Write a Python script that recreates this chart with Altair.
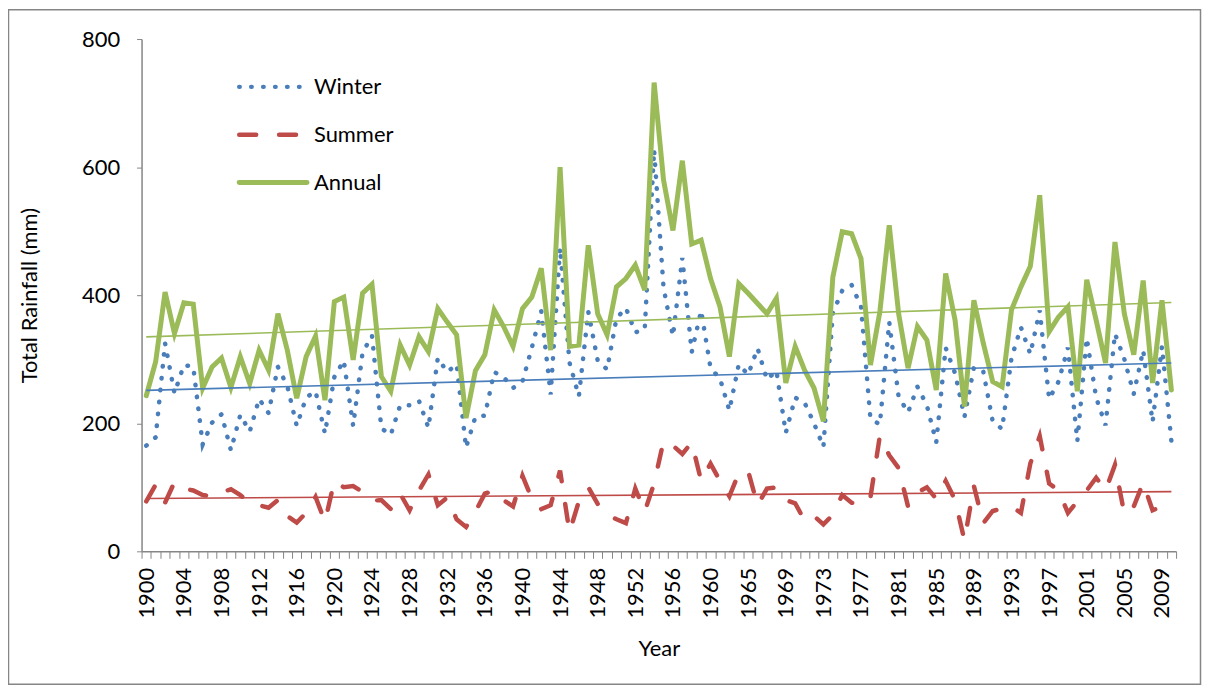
import altair as alt
import pandas as pd

# ---- categories (one year between 1960 and 1965 is absent from the axis) ----
years = list(range(1900, 1961)) + list(range(1962, 2011))
label_every = 4

# ---- series values (mm) ----
winter = [165, 178, 325, 247, 291, 288, 167, 201, 214, 158,
          213, 187, 238, 216, 288, 258, 196, 240, 250, 184,
          272, 298, 196, 310, 337, 192, 182, 228, 228, 235,
          193, 302, 280, 292, 162, 210, 212, 280, 272, 255,
          265, 318, 375, 245, 474, 295, 242, 374, 298, 284,
          364, 380, 342, 346, 627, 412, 336, 458, 311, 376,
          286, 270, 220, 292, 276, 317, 268, 282, 185, 240,
          232, 200, 163, 372, 407, 416, 382, 207, 198, 358,
          241, 217, 257, 228, 170, 318, 278, 210, 287, 281,
          203, 191, 302, 350, 308, 376, 238, 265, 318, 172,
          333, 240, 197, 340, 300, 246, 314, 202, 320, 172]

summer = [78, 104, 76, 108, 98, 95, 88, 86, 92, 97,
          88, 75, 72, 68, 80, 55, 45, 60, 85, 46,
          110, 100, 102, 93, 79, 80, 66, 90, 64, 95,
          120, 72, 84, 50, 38, 62, 90, 95, 80, 70,
          118, 82, 66, 72, 126, 30, 78, 100, 74, 58,
          50, 44, 98, 62, 106, 172, 165, 152, 170, 110,
          137, 110, 86, 122, 125, 72, 98, 100, 80, 75,
          48, 55, 42, 57, 88, 76, 72, 84, 180, 150,
          130, 70, 92, 100, 82, 110, 80, 17, 102, 44,
          63, 67, 70, 60, 137, 180, 106, 95, 60, 78,
          95, 115, 95, 135, 58, 70, 107, 64, 70, 85]

annual = [243, 296, 405, 340, 388, 386, 255, 288, 302, 256,
          304, 262, 314, 283, 371, 314, 239, 304, 336, 236,
          390, 397, 299, 403, 417, 273, 250, 322, 291, 335,
          312, 379, 358, 338, 208, 282, 307, 377, 351, 320,
          379, 397, 442, 314, 600, 320, 322, 478, 371, 338,
          413, 426, 447, 408, 732, 580, 501, 610, 480, 486,
          426, 382, 304, 418, 403, 387, 371, 395, 263, 320,
          283, 255, 203, 428, 499, 496, 457, 291, 374, 509,
          371, 286, 351, 330, 252, 434, 361, 226, 392, 325,
          265, 257, 377, 413, 445, 556, 343, 366, 382, 250,
          424, 361, 294, 483, 371, 307, 423, 263, 392, 252]

series_names = ["Winter", "Summer", "Annual"]
series_colors = ["#4A7EBB", "#BE4B48", "#9BBB59"]
y_ticks = [0, 200, 400, 600, 800]

# ---- build table ----
idx = list(range(len(years)))
tick_labels = [str(y) if i % label_every == 0 else "" for i, y in enumerate(years)]
rows = []
for name, vals in zip(series_names, [winter, summer, annual]):
    for i, v in zip(idx, vals):
        rows.append({"idx": i, "series": name, "value": v})
df = pd.DataFrame(rows)

label_expr = "[" + ",".join("'%s'" % t for t in tick_labels) + "][datum.value]"

FONT = "Lato"
FS = 22
W, H = 1038, 514
GRAY = "#868686"

x_enc = alt.X(
    "idx:O",
    scale=alt.Scale(type="band", domain=idx, paddingInner=0, paddingOuter=0),
    bandPosition=0.5,
    axis=alt.Axis(
        title="Year", labelExpr=label_expr, labelAngle=270, labelAlign="right",
        labelBaseline="middle", labelOverlap=False, labelPadding=9,
        tickBand="extent", tickSize=7, tickColor=GRAY, tickWidth=1,
        domainColor=GRAY, domainWidth=1.5,
        labelFont=FONT, labelFontSize=FS, labelColor="black",
        titleFont=FONT, titleFontSize=FS, titleFontWeight="normal", titleColor="black",
        titleX=W / 2, titleY=98, titleAlign="center", titleBaseline="middle",
    ),
)
y_enc = alt.Y(
    "value:Q",
    scale=alt.Scale(domain=[0, 800], nice=False),
    axis=alt.Axis(
        values=y_ticks, title="Total Rainfall (mm)", grid=False,
        tickSize=5, tickColor=GRAY, tickWidth=1, domainColor=GRAY, domainWidth=1.5,
        labelPadding=17, labelFont=FONT, labelFontSize=FS, labelColor="black",
        titleFont=FONT, titleFontSize=FS, titleFontWeight="normal", titleColor="black",
        titleAngle=270, titleX=-112, titleY=H / 2, titleAlign="center", titleBaseline="middle",
    ),
)

base = alt.Chart(df).encode(x=x_enc, y=y_enc)

styles = {
    "Winter": dict(strokeWidth=4.5, strokeDash=[0.5, 11.5], strokeCap="round"),
    "Summer": dict(strokeWidth=4.5, strokeDash=[17, 23], strokeCap="round"),
    "Annual": dict(strokeWidth=5, strokeCap="round"),
}

data_layers = []
trend_layers = []
for name, color in zip(series_names, series_colors):
    f = base.transform_filter(alt.datum.series == name)
    data_layers.append(f.mark_line(color=color, **styles[name]))
    trend_layers.append(
        f.transform_regression("idx", "value").mark_line(color=color, strokeWidth=1.6)
    )

# ---- legend drawn inside the plot, top-left ----
leg_data = alt.Data(values=[{"k": 0}])
legend_layers = []
for j, (name, color) in enumerate(zip(series_names, series_colors)):
    yy = 48 + 48 * j
    legend_layers.append(
        alt.Chart(leg_data).mark_rule(color=color, **styles[name]).encode(
            x=alt.value(98), x2=alt.value(166), y=alt.value(yy)
        )
    )
    legend_layers.append(
        alt.Chart(leg_data).mark_text(
            text=name, align="left", baseline="middle", font=FONT, fontSize=FS, color="black"
        ).encode(x=alt.value(173), y=alt.value(yy))
    )

frame = alt.Chart(leg_data).mark_rect(fill="transparent", stroke=GRAY, strokeWidth=1.5).encode(
    x=alt.value(-133.5), x2=alt.value(1062.5), y=alt.value(-29.5), y2=alt.value(647.5)
)

chart = alt.layer(frame, *data_layers, *trend_layers, *legend_layers).properties(
    width=W, height=H,
    padding={"left": 134, "top": 30, "right": 26, "bottom": 135},
    autosize=alt.AutoSizeParams(type="none"),
    background="white",
).configure_view(stroke="transparent")

chart.save("out.html", embed_options={"renderer": "svg", "actions": False})
